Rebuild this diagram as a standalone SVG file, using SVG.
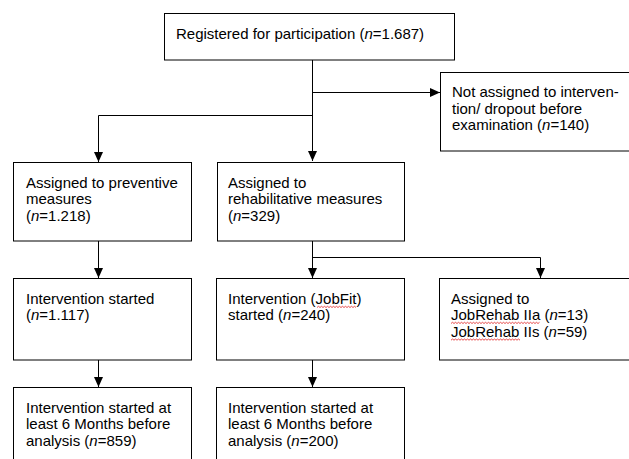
<svg xmlns="http://www.w3.org/2000/svg" width="629" height="459" viewBox="0 0 629 459">
<style>
.box{fill:#fff;stroke:#000;stroke-width:1}
.t{font-family:"Liberation Sans",Arial,sans-serif;font-size:15px;fill:#000}
.i{font-style:italic}
.c{fill:none;stroke:#000;stroke-width:1}
.sq{fill:none;stroke:#e02020;stroke-width:0.8}
</style>
<defs>
<marker id="ah" markerUnits="userSpaceOnUse" markerWidth="10" markerHeight="9" refX="10" refY="4.5" orient="auto">
<path d="M0,0 L10,4.5 L0,9 z" fill="#000"/>
</marker>
</defs>
<rect width="629" height="459" fill="#fff"/>
<g id="connectors">
<path class="c" d="M312.5,60 V161" marker-end="url(#ah)"/>
<path class="c" d="M312.5,92.5 H440" marker-end="url(#ah)"/>
<path class="c" d="M312.5,115.5 H98.5 V162" marker-end="url(#ah)"/>
<path class="c" d="M98.5,241 V278" marker-end="url(#ah)"/>
<path class="c" d="M312.5,241 V278" marker-end="url(#ah)"/>
<path class="c" d="M312.5,257.5 H540.5 V278" marker-end="url(#ah)"/>
<path class="c" d="M98.5,360 V387" marker-end="url(#ah)"/>
<path class="c" d="M312.5,360 V387" marker-end="url(#ah)"/>
</g>
<g id="registered">
<rect class="box" x="164.5" y="13.5" width="290" height="46.5"/>
<text class="t" x="176" y="39">Registered for participation (<tspan class="i">n</tspan>=1.687)</text>
</g>
<g id="not-assigned">
<rect class="box" x="440.5" y="72.5" width="200" height="78.5"/>
<text class="t" x="452" y="97">Not assigned to interven-</text>
<text class="t" x="452" y="113.7">tion/ dropout before</text>
<text class="t" x="452" y="130.4">examination (<tspan class="i">n</tspan>=140)</text>
</g>
<g id="preventive">
<rect class="box" x="13.5" y="162.5" width="178" height="78.5"/>
<text class="t" x="26" y="187.7">Assigned to preventive</text>
<text class="t" x="26" y="204.4">measures</text>
<text class="t" x="26" y="221.1">(<tspan class="i">n</tspan>=1.218)</text>
</g>
<g id="rehabilitative">
<rect class="box" x="217.5" y="162.5" width="187" height="78.5"/>
<text class="t" x="228" y="187.7">Assigned to</text>
<text class="t" x="228" y="204.4">rehabilitative measures</text>
<text class="t" x="228" y="221.1">(<tspan class="i">n</tspan>=329)</text>
</g>
<g id="prev-started">
<rect class="box" x="13.5" y="278.5" width="178" height="81.5"/>
<text class="t" x="26" y="303.5">Intervention started</text>
<text class="t" x="26" y="320.2">(<tspan class="i">n</tspan>=1.117)</text>
</g>
<g id="jobfit-started">
<rect class="box" x="216.5" y="278.5" width="188" height="81.5"/>
<text class="t" x="228" y="303.5">Intervention (JobFit)</text>
<text class="t" x="228" y="320.2">started (<tspan class="i">n</tspan>=240)</text>
</g>
<g id="jobrehab">
<rect class="box" x="439.5" y="278.5" width="200" height="81.5"/>
<text class="t" x="451" y="303.5">Assigned to</text>
<text class="t" x="451" y="320.2">JobRehab IIa (<tspan class="i">n</tspan>=13)</text>
<text class="t" x="451" y="336.9">JobRehab IIs (<tspan class="i">n</tspan>=59)</text>
</g>
<g id="prev-6months">
<rect class="box" x="13.5" y="387.5" width="178" height="90"/>
<text class="t" x="26" y="412.5">Intervention started at</text>
<text class="t" x="26" y="429.2">least 6 Months before</text>
<text class="t" x="26" y="445.9">analysis (<tspan class="i">n</tspan>=859)</text>
</g>
<g id="jobfit-6months">
<rect class="box" x="216.5" y="387.5" width="188" height="90"/>
<text class="t" x="228" y="412.5">Intervention started at</text>
<text class="t" x="228" y="429.2">least 6 Months before</text>
<text class="t" x="228" y="445.9">analysis (<tspan class="i">n</tspan>=200)</text>
</g>
<g id="spellmarks">
<path class="sq" d="M317,307.5 l1.5,-1.2 l1.5,1.2 l1.5,-1.2 l1.5,1.2 l1.5,-1.2 l1.5,1.2 l1.5,-1.2 l1.5,1.2 l1.5,-1.2 l1.5,1.2 l1.5,-1.2 l1.5,1.2 l1.5,-1.2 l1.5,1.2 l1.5,-1.2 l1.5,1.2 l1.5,-1.2 l1.5,1.2 l1.5,-1.2 l1.5,1.2 l1.5,-1.2 l1.5,1.2 l1.5,-1.2 l1.5,1.2 l1.5,-1.2 l1.5,1.2"/>
<path class="sq" d="M451,323.5 l1.5,-1.2 l1.5,1.2 l1.5,-1.2 l1.5,1.2 l1.5,-1.2 l1.5,1.2 l1.5,-1.2 l1.5,1.2 l1.5,-1.2 l1.5,1.2 l1.5,-1.2 l1.5,1.2 l1.5,-1.2 l1.5,1.2 l1.5,-1.2 l1.5,1.2 l1.5,-1.2 l1.5,1.2 l1.5,-1.2 l1.5,1.2 l1.5,-1.2 l1.5,1.2 l1.5,-1.2 l1.5,1.2 l1.5,-1.2 l1.5,1.2 l1.5,-1.2 l1.5,1.2 l1.5,-1.2 l1.5,1.2 l1.5,-1.2 l1.5,1.2 l1.5,-1.2 l1.5,1.2 l1.5,-1.2 l1.5,1.2 l1.5,-1.2 l1.5,1.2 l1.5,-1.2 l1.5,1.2 l1.5,-1.2 l1.5,1.2 l1.5,-1.2 l1.5,1.2 l1.5,-1.2 l1.5,1.2 l1.5,-1.2 l1.5,1.2 l1.5,-1.2 l1.5,1.2 l1.5,-1.2 l1.5,1.2 l1.5,-1.2 l1.5,1.2 l1.5,-1.2 l1.5,1.2 l1.5,-1.2 l1.5,1.2 l1.5,-1.2"/>
<path class="sq" d="M451,340.2 l1.5,-1.2 l1.5,1.2 l1.5,-1.2 l1.5,1.2 l1.5,-1.2 l1.5,1.2 l1.5,-1.2 l1.5,1.2 l1.5,-1.2 l1.5,1.2 l1.5,-1.2 l1.5,1.2 l1.5,-1.2 l1.5,1.2 l1.5,-1.2 l1.5,1.2 l1.5,-1.2 l1.5,1.2 l1.5,-1.2 l1.5,1.2 l1.5,-1.2 l1.5,1.2 l1.5,-1.2 l1.5,1.2 l1.5,-1.2 l1.5,1.2 l1.5,-1.2 l1.5,1.2 l1.5,-1.2 l1.5,1.2 l1.5,-1.2 l1.5,1.2 l1.5,-1.2 l1.5,1.2 l1.5,-1.2 l1.5,1.2 l1.5,-1.2 l1.5,1.2 l1.5,-1.2 l1.5,1.2 l1.5,-1.2 l1.5,1.2 l1.5,-1.2 l1.5,1.2 l1.5,-1.2 l1.5,1.2"/>
</g>
</svg>
